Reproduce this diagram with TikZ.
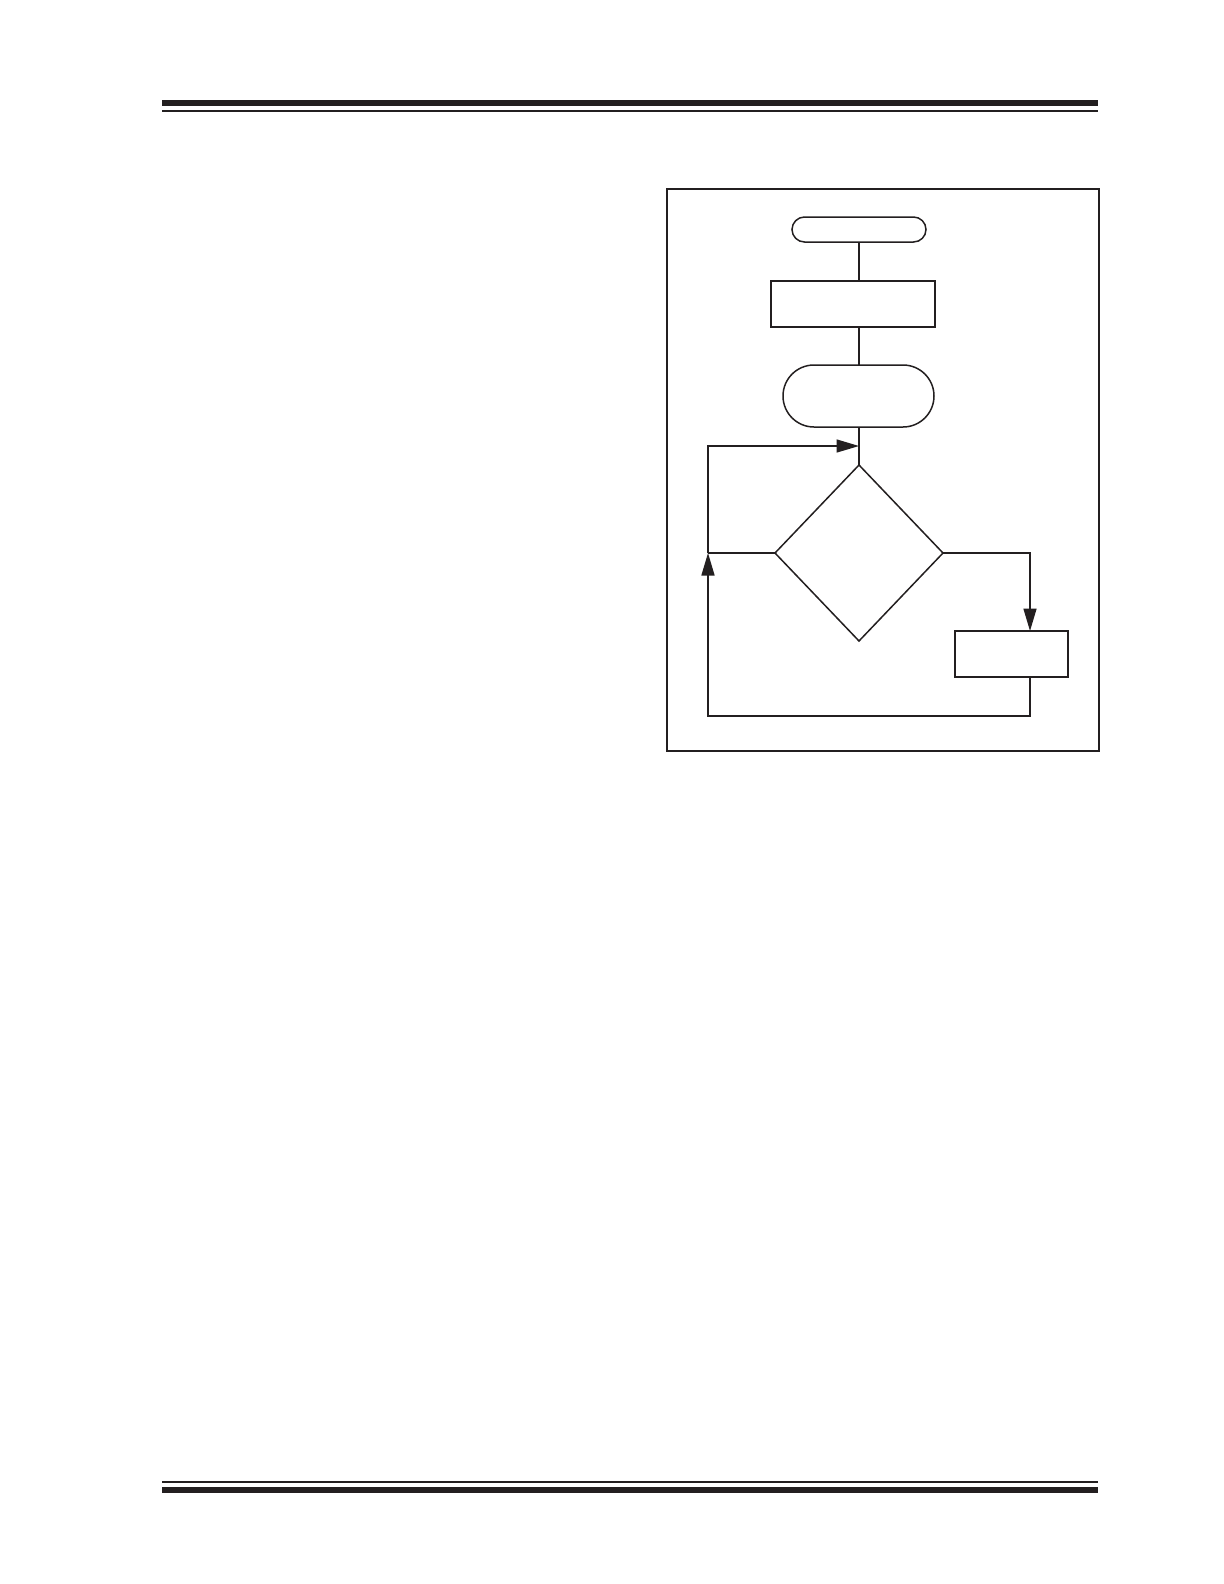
\documentclass[tikz,border=0pt]{standalone}
\usetikzlibrary{shapes.geometric,arrows.meta}
\definecolor{ink}{HTML}{231F20}
\begin{document}
\begin{tikzpicture}[x=0.6pt,y=-0.6pt,
  line width=0.9pt, draw=ink, color=ink,
  box/.style={draw=ink, rectangle, inner sep=0pt, outer sep=0pt},
  term/.style={box},
  dec/.style={draw=ink, diamond, inner sep=0pt, outer sep=0pt, minimum width=100.8pt, minimum height=105.6pt},
  conn/.style={draw=ink, line width=0.9pt},
  arr/.style={conn, -{Triangle[length=13.5pt,width=7.8pt]}},
  bar/.style={fill=ink, draw=none}]
\useasboundingbox (0,0) rectangle (1224,1584);
\fill[white] (0,0) rectangle (1224,1584);
% header and footer rules
\path[bar] (162,100) rectangle (1098,106);
\path[bar] (162,110) rectangle (1098,112);
\path[bar] (162,1481) rectangle (1098,1483);
\path[bar] (162,1487) rectangle (1098,1493);
% frame
\draw[ink, line width=1.2pt] (667,189) rectangle (1099,751);
% nodes
\node[term, minimum width=80.4pt, minimum height=15pt, rounded corners=7.5pt] (t1) at (859,229.5) {};
\node[box, minimum width=98.4pt, minimum height=27.6pt] (b1) at (853,304) {};
\node[term, minimum width=90.6pt, minimum height=37.2pt, rounded corners=18.6pt] (t2) at (858.5,396) {};
\node[dec] (d) at (859,553) {};
\node[box, minimum width=67.8pt, minimum height=27.6pt] (b2) at (1011.5,654) {};
\coordinate (L) at (708,553);
\coordinate (T) at (708,446);
\coordinate (R) at (1030,553);
\coordinate (BR) at (1030,716);
\coordinate (BL) at (708,716);
% connectors
\draw[conn] (t1.south) -- (t1.south |- b1.north);
\draw[conn] (t2.north -| t1.south) -- (b1.south -| t1.south);
\draw[conn] (t2.south -| d.north) -- (d.north);
\draw[conn, line width=1.3pt] (d.west) -- (L);
\draw[arr] (L) -- (T) -- (T -| d.north);
\draw[arr] (d.east) -- (R) -- (R |- b2.north);
\draw[arr] (R |- b2.south) -- (BR) -- (BL) -- (L);
\end{tikzpicture}
\end{document}
